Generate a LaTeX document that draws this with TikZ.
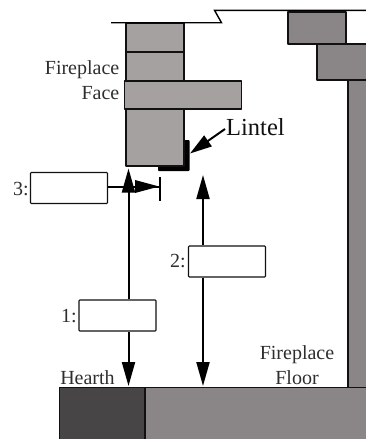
\documentclass[tikz,border=0pt]{standalone}
\usepackage{fontspec}
\setmainfont{Liberation Serif}
\usetikzlibrary{arrows.meta,positioning}
\definecolor{brick}{HTML}{A5A1A0}
\definecolor{wall}{HTML}{8A8687}
\definecolor{hearthc}{HTML}{484546}
\definecolor{ink}{HTML}{111111}
\definecolor{txt}{HTML}{2E2E2E}
\tikzset{
  shp/.style={draw=ink,line width=1.2pt,line join=round},
  ansbox/.style={draw=ink,line width=1.1pt,fill=white,rounded corners=0.8pt,inner sep=0pt,minimum width=77pt,minimum height=31pt},
  lbl/.style={text=txt,inner sep=0pt,font=\fontsize{20}{22}\selectfont},
  conn/.style={draw=black,line width=2pt},
  tip/.style={-{Triangle[length=24pt,width=13pt]}},
  pic/.style={x=1pt,y=-1pt}
}
\begin{document}
\begin{tikzpicture}[pic]
\useasboundingbox (0,0) rectangle (366,439);
% floor and walls
\path[shp,fill=hearthc] (59.5,387.5) rectangle (145,441);
\path[shp,fill=wall] (145,387.5) rectangle (368,441);
\path[shp,fill=wall] (348,80) rectangle (368,387.5);
\path[shp,fill=wall] (288,12) rectangle (346,44);
\path[shp,fill=wall] (317,44) rectangle (368,80);
% lintel
\fill[black,rounded corners=1pt] (184,140) -- (189.5,140) -- (189.5,171) -- (158,171) -- (158,166) -- (184,166) -- cycle;
% bricks
\path[shp,fill=brick] (126,23) rectangle (184,52);
\path[shp,fill=brick] (126,52) rectangle (184,81);
\path[shp,fill=brick] (126,109) rectangle (184,166);
\path[shp,fill=brick] (124.5,81) rectangle (241.5,109);
% ceiling line
\draw[draw=black,line width=1.4pt] (111,22.7) -- (221.5,22.7) -- (214.5,10.3) -- (366,10.3);
% labels
\node[lbl,anchor=base east] (ff1) at (119.5,74) {Fireplace};
\node[lbl,anchor=base east] (ff2) at (119.5,99) {Face};
\node[lbl,anchor=base] (hearth) at (87.5,384) {Hearth};
\node[lbl,anchor=base] (fl1) at (297,359) {Fireplace};
\node[lbl,anchor=base] (fl2) at (297,384) {Floor};
\node[lbl,anchor=base west,text=ink,font=\fontsize{24.5}{26}\selectfont] (lintel) at (226,135) {Lintel};
% boxes
\node[ansbox] (b3) at (69,188) {};
\node[ansbox] (b2) at (227,261.5) {};
\node[ansbox] (b1) at (117.5,315.5) {};
\node[lbl,anchor=east] (n3) at (29,189) {3:};
\node[lbl,anchor=east] (n2) at (186,261) {2:};
\node[lbl,anchor=east] (n1) at (77,316) {1:};
% connectors
\coordinate (a1t) at (128.5,168.5);
\coordinate (a1b) at (128.5,386);
\coordinate (a2t) at (203,175);
\coordinate (a2b) at (203,386);
\coordinate (barT) at (160,177);
\coordinate (barB) at (160,200.5);
\coordinate (barM) at (160,186.5);
\coordinate (lt) at (190,153.5);
\draw[conn,tip] (a1t |- b1.north) -- (a1t);
\draw[conn,tip] (a1b |- b1.south) -- (a1b);
\draw[conn,tip] (a2t |- b2.north) -- (a2t);
\draw[conn,tip] (a2b |- b2.south) -- (a2b);
\draw[conn] (b3.east |- barM) -- (barM);
\draw[conn] (barT) -- (barB);
\fill[black] (159,186.5) -- (135,180) -- (135,193) -- cycle;
\coordinate (ls) at (225,129);
\draw[conn,-{Triangle[length=22pt,width=13pt]}] (ls) -- (lt);
\end{tikzpicture}
\end{document}
